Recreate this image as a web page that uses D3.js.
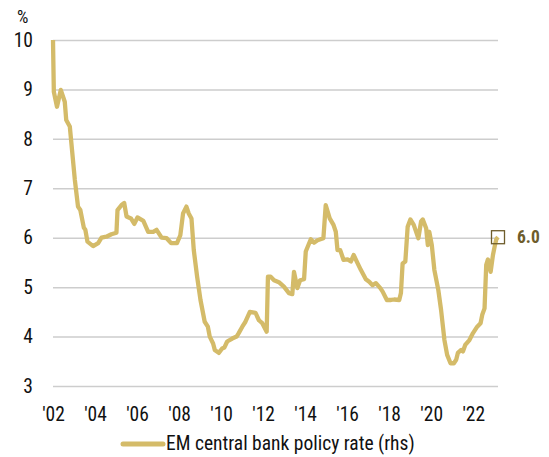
<!DOCTYPE html>
<html>
<head>
<meta charset="utf-8">
<script src="https://cdn.jsdelivr.net/npm/d3@7"></script>
<style>
  body { margin: 0; background: #fff; }
  svg text { font-family: "Roboto Condensed", "Roboto", sans-serif; font-stretch: 80%; fill: #111; }
</style>
</head>
<body>
<svg id="chart" width="549" height="457"></svg>
<script>
"use strict";

// EM central bank policy rate, %, dates as decimal years
const years = [
    2002.00, 2002.04, 2002.19, 2002.37, 2002.56, 2002.63, 2002.80, 2003.04, 2003.19, 2003.30,
    2003.47, 2003.54, 2003.64, 2003.91, 2004.15, 2004.31, 2004.54, 2004.78, 2005.02, 2005.07,
    2005.26, 2005.39, 2005.50, 2005.71, 2005.87, 2006.02, 2006.30, 2006.53, 2006.77, 2006.93,
    2007.17, 2007.41, 2007.62, 2007.81, 2007.90, 2008.06, 2008.19, 2008.35, 2008.46, 2008.59,
    2008.70, 2008.86, 2009.02, 2009.22, 2009.37, 2009.46, 2009.62, 2009.70, 2009.89, 2010.05,
    2010.16, 2010.29, 2010.53, 2010.74, 2010.84, 2011.01, 2011.16, 2011.37, 2011.64, 2011.80,
    2011.96, 2012.17, 2012.23, 2012.36, 2012.52, 2012.75, 2012.99, 2013.23, 2013.39, 2013.47,
    2013.63, 2013.76, 2013.95, 2014.03, 2014.27, 2014.42, 2014.59, 2014.87, 2014.98, 2015.17,
    2015.35, 2015.46, 2015.54, 2015.67, 2015.83, 2016.02, 2016.18, 2016.31, 2016.50, 2016.65,
    2016.89, 2017.05, 2017.21, 2017.37, 2017.58, 2017.69, 2017.89, 2018.09, 2018.24, 2018.48,
    2018.56, 2018.64, 2018.77, 2018.88, 2019.01, 2019.17, 2019.39, 2019.52, 2019.60, 2019.76,
    2019.84, 2019.91, 2020.03, 2020.15, 2020.34, 2020.47, 2020.63, 2020.76, 2020.92, 2021.08,
    2021.19, 2021.27, 2021.43, 2021.51, 2021.62, 2021.82, 2021.99, 2022.19, 2022.35, 2022.43,
    2022.54, 2022.62, 2022.70, 2022.83, 2022.94, 2023.02, 2023.10, 2023.18
];
const rates = [
    10.00, 8.95, 8.65, 8.99, 8.75, 8.38, 8.25, 7.17, 6.63, 6.56,
    6.20, 6.16, 5.92, 5.83, 5.89, 6.00, 6.02, 6.07, 6.10, 6.56,
    6.66, 6.70, 6.43, 6.39, 6.28, 6.41, 6.34, 6.12, 6.12, 6.16,
    6.00, 5.99, 5.89, 5.89, 5.89, 6.05, 6.49, 6.63, 6.49, 6.39,
    5.75, 5.21, 4.74, 4.30, 4.20, 4.00, 3.86, 3.73, 3.67, 3.76,
    3.78, 3.90, 3.96, 4.00, 4.07, 4.20, 4.30, 4.50, 4.48, 4.33,
    4.27, 4.10, 5.21, 5.21, 5.14, 5.10, 5.01, 4.88, 4.86, 5.31,
    4.98, 5.14, 5.16, 5.72, 5.97, 5.90, 5.95, 5.99, 6.66, 6.39,
    6.26, 6.12, 5.75, 5.75, 5.55, 5.56, 5.52, 5.65, 5.48, 5.35,
    5.16, 5.11, 5.04, 5.08, 4.98, 4.91, 4.74, 4.74, 4.75, 4.74,
    4.88, 5.48, 5.52, 6.22, 6.37, 6.26, 5.99, 6.33, 6.37, 6.19,
    5.85, 6.12, 5.85, 5.35, 4.94, 4.54, 3.93, 3.63, 3.46, 3.46,
    3.53, 3.67, 3.73, 3.70, 3.83, 3.93, 4.07, 4.20, 4.27, 4.44,
    4.57, 5.45, 5.56, 5.31, 5.65, 5.82, 5.97, 6.01
];
const yTicks = [3, 4, 5, 6, 7, 8, 9, 10];
const xTicks = [2002, 2004, 2006, 2008, 2010, 2012, 2014, 2016, 2018, 2020, 2022];
const lastLabel = "6.0";
const seriesName = "EM central bank policy rate (rhs)";

const LINE_COLOR = "#d4bb69";
const MARK_COLOR = "#6e5c2b";

const svg = d3.select("#chart");
const margin = {left: 53, right: 51, top: 40, bottom: 71};
const width = 549 - margin.left - margin.right;
const height = 457 - margin.top - margin.bottom;

const x = d3.scaleLinear().domain([2002, 2023.18]).range([0, width]);
const y = d3.scaleLinear().domain([3, 10]).range([height, 0]);

const g = svg.append("g")
    .attr("transform", "translate(" + margin.left + "," + margin.top + ")");

// Horizontal grid lines with the y labels on the left.
let yAxis = g.append("g")
    .call(d3.axisLeft(y).tickValues(yTicks).tickSize(-width).tickPadding(20).tickFormat(d3.format("d")));
yAxis.select(".domain").remove();
yAxis.selectAll(".tick line").attr("stroke", "#cdcdcd").attr("stroke-width", 1.5);
yAxis.selectAll(".tick text").style("font-size", "19.5px").attr("fill", "#111");

// Year labels below.
let xAxis = g.append("g")
    .attr("transform", "translate(0," + height + ")")
    .call(d3.axisBottom(x).tickValues(xTicks).tickSize(0).tickPadding(21)
        .tickFormat(function (d) { return "'" + String(d).slice(2); }));
xAxis.select(".domain").remove();
xAxis.selectAll(".tick text").style("font-size", "19.5px").attr("fill", "#111");

svg.append("text")
    .attr("x", 17)
    .attr("y", 23)
    .style("font-size", "18px")
    .text("%");

// The series line.
const points = years.map(function (yr, i) { return [yr, rates[i]]; });
g.append("path")
    .datum(points)
    .attr("fill", "none")
    .attr("stroke", LINE_COLOR)
    .attr("stroke-width", 4.3)
    .attr("stroke-linejoin", "round")
    .attr("d", d3.line().x(function (d) { return x(d[0]); }).y(function (d) { return y(d[1]); }));

// Marker on the last value.
let last = points[points.length - 1];
g.append("rect")
    .attr("x", x(last[0]) - 6.5)
    .attr("y", y(last[1]) - 6.5)
    .attr("width", 13)
    .attr("height", 13)
    .attr("fill", "none")
    .attr("stroke", MARK_COLOR)
    .attr("stroke-width", 1.3);
g.append("text")
    .attr("x", x(last[0]) + 19)
    .attr("y", y(last[1]))
    .attr("dy", "0.35em")
    .style("font-size", "17.5px")
    .style("font-weight", "bold")
    .style("fill", MARK_COLOR)
    .text(lastLabel);

// Legend.
let legend = svg.append("g").attr("transform", "translate(123,444)");
legend.append("line")
    .attr("x1", 0).attr("x2", 40)
    .attr("stroke", LINE_COLOR)
    .attr("stroke-width", 5)
    .attr("stroke-linecap", "round");
legend.append("text")
    .attr("x", 43)
    .attr("y", 6)
    .style("font-size", "19.5px")
    .text(seriesName);
</script>
</body>
</html>
